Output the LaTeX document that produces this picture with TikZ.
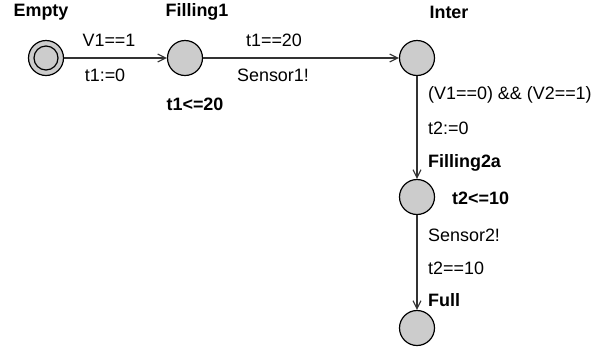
\documentclass[tikz,border=0pt]{standalone}
\usepackage{fontspec}
\setmainfont{Liberation Sans}
\usetikzlibrary{arrows.meta}
\begin{document}
\begin{tikzpicture}[x=1bp,y=-1bp,
  loc/.style={circle,draw=black,fill=black!20,line width=1.2bp,minimum size=35bp,inner sep=0pt},
  lbl/.style={font=\fontsize{18}{20}\selectfont,inner sep=0pt},
  bl/.style={font=\fontsize{18}{20}\selectfont\bfseries,inner sep=0pt},
  edge/.style={draw=black!80,line width=1.2bp,-{Straight Barb[length=8bp,width=8bp,line width=1.1bp]}}]
\useasboundingbox (0,0) rectangle (613,356);
\node[loc] (empty) at (46,58) {};
\node[circle,draw=black,line width=1.2bp,minimum size=24bp,inner sep=0pt] (emptyin) at (46,58) {};
\node[loc] (f1) at (185,58) {};
\node[loc] (inter) at (417,58) {};
\node[loc] (f2) at (417,197) {};
\node[loc] (full) at (417,328) {};
\draw[edge] (empty) -- (f1);
\draw[edge] (f1) -- (inter);
\draw[edge] (inter) -- (f2);
\draw[edge] (f2) -- (full);
\node[bl] (tEmpty) at (41,12) {Empty};
\node[bl] (tF1) at (197,12) {Filling1};
\node[bl] (tInter) at (449,12) {Inter};
\node[lbl] (g1) at (109,40) {V1==1};
\node[lbl] (a1) at (105,75) {t1:=0};
\node[lbl] (g2) at (274,40) {t1==20};
\node[lbl] (s1) at (273,75) {Sensor1!};
\node[bl] (inv1) at (195,104) {t1<=20};
\node[lbl,anchor=west] (g3) at (428,95) {(V1==0) \&\& (V2==1)};
\node[lbl,anchor=west] (a3) at (428,128) {t2:=0};
\node[bl,anchor=west] (tF2) at (428,163) {Filling2a};
\node[bl,anchor=west] (inv2) at (452,198) {t2<=10};
\node[lbl,anchor=west] (s2) at (428,235) {Sensor2!};
\node[lbl,anchor=west] (g4) at (428,268) {t2==10};
\node[bl,anchor=west] (tFull) at (428,300) {Full};
\end{tikzpicture}
\end{document}
